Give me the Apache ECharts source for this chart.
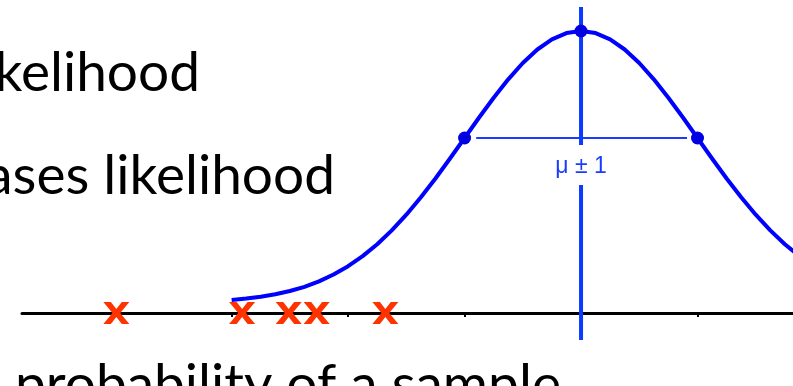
<!DOCTYPE html>
<html>
<head>
<meta charset="utf-8">
<script src="https://cdn.jsdelivr.net/npm/echarts@6/dist/echarts.min.js"></script>
<style>
  html, body { margin: 0; padding: 0; background: #fff; }
  #chart { width: 793px; height: 386px; }
</style>
</head>
<body>
<div id="chart"></div>
<script>
  // x in units of sigma (mu = 0), y = height above the axis line (px-ish)
  var curveX = [-3, -2.875, -2.75, -2.625, -2.5, -2.375, -2.25, -2.125, -2, -1.875, -1.75, -1.625,
                -1.5, -1.375, -1.25, -1.125, -1, -0.875, -0.75, -0.625, -0.5, -0.375, -0.25, -0.125, 0,
                0.125, 0.25, 0.375, 0.5, 0.625, 0.75, 0.875, 1, 1.125, 1.25, 1.375, 1.5, 1.625,
                1.75, 1.875, 2]
  var curveY = [13.0, 14.4, 16.2, 18.7, 22.0, 26.2, 31.6, 38.5, 46.8, 56.9, 68.8, 82.6,
                98.3, 115.7, 134.5, 154.5, 175.0, 195.5, 215.3, 233.7, 250.0, 263.5, 273.6, 279.9, 282.0,
                279.9, 273.6, 263.5, 250.0, 233.7, 215.3, 195.5, 175.0, 154.5, 134.5, 115.7, 98.3, 82.6,
                68.8, 56.9, 46.8]
  var markX = [-1, 0, 1]
  var markY = [175, 282, 175]
  var sampleX = [-3.99, -2.91, -2.51, -2.27, -1.68]
  var tickValues = [-4, -3, -2, -1, 0, 1]
  var spreadLabel = 'μ ± 1'
  var spreadY = 175
  var spreadFrom = -0.9
  var spreadTo = 0.91
  var meanTop = [306, 168]
  var meanBottom = [128, -27]

  var chart = echarts.init(document.getElementById('chart'))

  var crossPath = 'path://M0,0 L29,0 L50,32 L71,0 L100,0 L65,50 L100,100 L71,100 L50,68 L29,100 L0,100 L35,50 Z'
  var textFont = '55px Lato'

  var option = {
    animation: false,
    grid: { left: 22, right: 0, top: 0, bottom: 0 },
    xAxis: {
      type: 'value',
      min: -4.8,
      max: 1.82,
      axisLine: { show: true, onZero: true, lineStyle: { color: '#000', width: 3 } },
      axisTick: {
        show: true,
        customValues: tickValues,
        length: 4,
        lineStyle: { color: '#000', width: 2 }
      },
      axisLabel: { show: false },
      splitLine: { show: false }
    },
    yAxis: {
      type: 'value',
      min: -73,
      max: 313,
      show: false,
      splitLine: { show: false }
    },
    graphic: [
      {
        type: 'text', x: 200, y: 73,
        style: { text: 'likelihood', font: textFont, fill: '#000', textAlign: 'right', textVerticalAlign: 'middle' }
      },
      {
        type: 'text', x: 335, y: 176,
        style: { text: 'increases likelihood', font: textFont, fill: '#000', textAlign: 'right', textVerticalAlign: 'middle' }
      },
      {
        type: 'text', x: 15, y: 385,
        style: { text: 'probability of a sample', font: textFont, fill: '#000', textAlign: 'left', textVerticalAlign: 'middle' }
      }
    ],
    series: [
      {
        // horizontal mu +/- 1 bar
        type: 'line',
        data: [[spreadFrom, spreadY], [spreadTo, spreadY]],
        symbol: 'none',
        lineStyle: { color: '#1a3cff', width: 2 },
        z: 2
      },
      {
        type: 'line',
        data: [[0, meanTop[0]], [0, meanTop[1]]],
        symbol: 'none',
        lineStyle: { color: '#0a3cff', width: 4 },
        z: 2
      },
      {
        type: 'line',
        data: [[0, meanBottom[0]], [0, meanBottom[1]]],
        symbol: 'none',
        lineStyle: { color: '#0a3cff', width: 4 },
        z: 2
      },
      {
        type: 'scatter',
        data: [[0, 146]],
        symbolSize: 0,
        itemStyle: { opacity: 1 },
        label: {
          show: true,
          position: 'inside',
          formatter: spreadLabel,
          color: '#1a3cff',
          opacity: 1,
          textBorderWidth: 0,
          fontSize: 23,
          fontFamily: 'Liberation Sans'
        },
        z: 3
      },
      {
        // gaussian
        type: 'line',
        data: curveX.map(function (x, i) { return [x, curveY[i]] }),
        smooth: false,
        symbol: 'none',
        lineStyle: { color: '#0000ff', width: 4, join: 'round' },
        z: 3
      },
      {
        type: 'scatter',
        data: markX.map(function (x, i) { return [x, markY[i]] }),
        symbol: 'circle',
        symbolSize: 13,
        itemStyle: { color: '#0000e0', opacity: 1 },
        z: 4
      },
      {
        // samples
        type: 'scatter',
        data: sampleX.map(function (x) { return [x, 0] }),
        symbol: crossPath,
        symbolSize: [26, 22],
        itemStyle: { color: '#ff3300', opacity: 1 },
        z: 5
      }
    ]
  }
  chart.setOption(option)
</script>
</body>
</html>
